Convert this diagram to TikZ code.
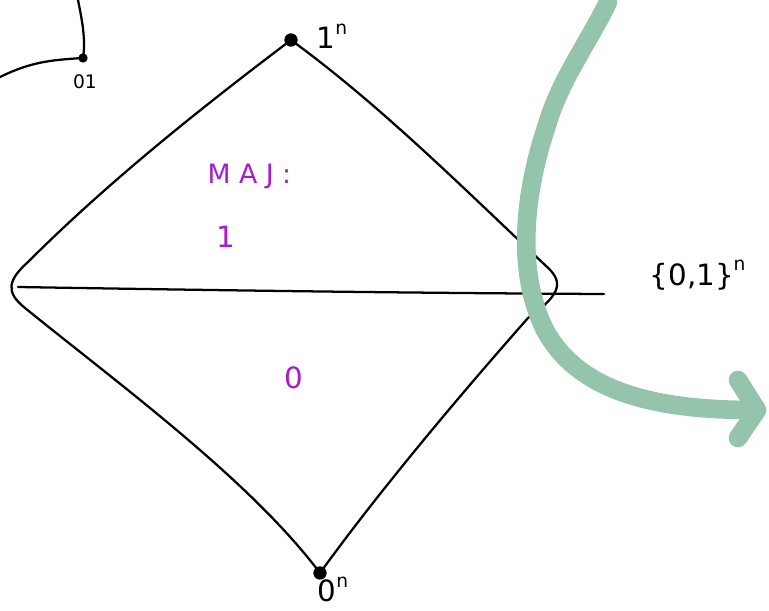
\documentclass[tikz,border=0pt]{standalone}
\usepackage{fontspec}
\setmainfont{DejaVu Sans}
\definecolor{majpurple}{RGB}{165,30,205}
\definecolor{arrowgreen}{RGB}{148,196,172}
\tikzset{
  ink/.style={black, line width=1.7pt, line cap=round, line join=round},
  vdot/.style={circle, fill=black, inner sep=0pt, minimum size=10pt},
  lab/.style={font=\fontsize{22}{26}\selectfont},
  purp/.style={font=\fontsize{22}{26}\selectfont, text=majpurple},
  bigarrow/.style={arrowgreen, line width=14pt, line cap=round, line join=round}
}
\newcommand{\supn}{\raisebox{0.9ex}{\fontsize{14}{16}\selectfont n}}
\begin{document}
\begin{tikzpicture}[x=0.75pt, y=-0.75pt]
\useasboundingbox (0,0) rectangle (769,611);
% vertices
\node[vdot] (top) at (291,40) {};
\node[vdot] (bot) at (320,573) {};
\coordinate (hl) at (18,287);
\coordinate (hr) at (604,294);
% diamond
\draw[ink] (top.center) .. controls (205,105) and (110,180) .. (28,262)
  .. controls (8,280) and (5,292) .. (25,308)
  .. controls (120,385) and (250,480) .. (bot.center);
\draw[ink] (top.center) .. controls (380,105) and (460,185) .. (545,265)
  .. controls (562,280) and (565,292) .. (528,318)
  .. controls (460,395) and (380,490) .. (bot.center);
% horizontal line
\draw[ink] (hl) .. controls (200,290) and (400,293) .. (hr);
% top-left fragment
\node[vdot, minimum size=7pt] (d01) at (83,58) {};
\draw[ink] (78,0) .. controls (82,20) and (86,40) .. (d01.center);
\draw[ink] (d01.center) .. controls (50,60) and (30,62) .. (-2,78);
\node[font=\fontsize{14}{16}\selectfont] (l01) at (85,82) {01};
% labels
\node[lab, anchor=west] (l1n) at (312,36) {1\supn};
\node[lab, anchor=north] (l0n) at (333,572) {0\supn};
\node[lab, anchor=west] (l01n) at (645,275) {\{0,1\}\supn};
\node[purp, anchor=west, font=\fontsize{20}{24}\selectfont] (maj) at (203,176) {M A J :};
\node[purp] (one) at (226,237) {1};
\node[purp] (zero) at (294,378) {0};
% green arrow
\draw[bigarrow] (608,2) .. controls (590,40) and (560,80) .. (547,125)
  .. controls (525,190) and (515,270) .. (545,330)
  .. controls (575,385) and (640,410) .. (752,410);
\draw[bigarrow] (738,380) -- (757,410) -- (738,438);
\end{tikzpicture}
\end{document}
